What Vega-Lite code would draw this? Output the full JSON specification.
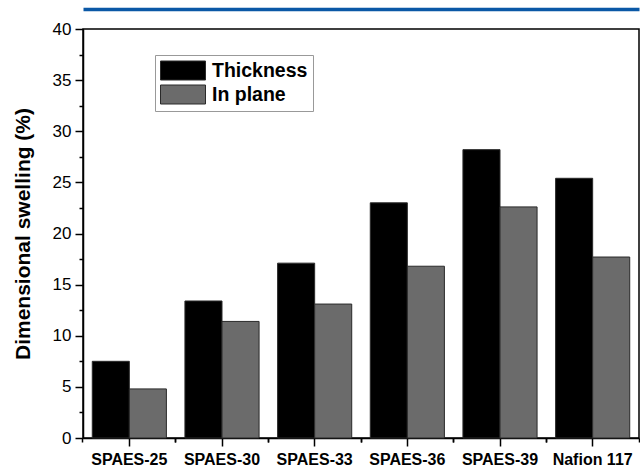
{
  "$schema": "https://vega.github.io/schema/vega-lite/v6.json",
  "width": 556,
  "height": 409,
  "autosize": {"type": "none"},
  "padding": {"left": 83, "top": 29, "right": 1, "bottom": 29},
  "background": "white",
  "config": {
    "font": "Liberation Sans",
    "view": {"stroke": "#000", "strokeWidth": 1.5},
    "axis": {"grid": false, "domainColor": "#000", "tickColor": "#000", "labelColor": "#000", "titleColor": "#000", "domainWidth": 1.5, "tickWidth": 1.5}
  },
  "data": {
    "values": [
      {"sample": "SPAES-25", "series": "Thickness", "swelling": 7.5},
      {"sample": "SPAES-30", "series": "Thickness", "swelling": 13.4},
      {"sample": "SPAES-33", "series": "Thickness", "swelling": 17.1},
      {"sample": "SPAES-36", "series": "Thickness", "swelling": 23.0},
      {"sample": "SPAES-39", "series": "Thickness", "swelling": 28.2},
      {"sample": "Nafion 117", "series": "Thickness", "swelling": 25.4},
      {"sample": "SPAES-25", "series": "In plane", "swelling": 4.8},
      {"sample": "SPAES-30", "series": "In plane", "swelling": 11.4},
      {"sample": "SPAES-33", "series": "In plane", "swelling": 13.1},
      {"sample": "SPAES-36", "series": "In plane", "swelling": 16.8},
      {"sample": "SPAES-39", "series": "In plane", "swelling": 22.6},
      {"sample": "Nafion 117", "series": "In plane", "swelling": 17.7}
    ]
  },
  "layer": [
    {
      "mark": {"type": "bar", "stroke": "#2a2a2a", "strokeWidth": 1},
      "encoding": {
        "x": {
          "field": "sample", "type": "nominal", "sort": null,
          "scale": {"paddingInner": 0.2, "paddingOuter": 0.1},
          "axis": {"orient": "bottom", "title": null, "labelAngle": 0, "labelFontSize": 16, "labelFontWeight": "bold", "tickSize": 8, "labelPadding": 5, "domain": true}
        },
        "xOffset": {"field": "series", "type": "nominal", "sort": ["Thickness", "In plane"], "scale": {"paddingInner": 0, "paddingOuter": 0}},
        "y": {
          "field": "swelling", "type": "quantitative",
          "scale": {"domain": [0, 40], "nice": false},
          "axis": {"orient": "left", "title": "Dimensional swelling (%)", "titleFontSize": 21, "titleFontWeight": "bold", "titlePadding": 19, "values": [0, 5, 10, 15, 20, 25, 30, 35, 40], "labelFontSize": 17, "tickSize": 8, "labelPadding": 4}
        },
        "color": {
          "field": "series", "type": "nominal", "sort": ["Thickness", "In plane"],
          "scale": {"domain": ["Thickness", "In plane"], "range": ["#000000", "#6b6b6b"]},
          "legend": {
            "title": null, "orient": "none", "legendX": 72, "legendY": 26,
            "symbolType": "M-1,-0.95H3.5V0.95H-1Z", "symbolSize": 400, "symbolStrokeColor": "#2a2a2a", "symbolStrokeWidth": 1,
            "labelFontSize": 19.5, "labelFontWeight": "bold", "labelColor": "#000", "labelOffset": 31,
            "rowPadding": 1, "padding": 5, "strokeColor": "#999", "fillColor": "white"
          }
        }
      }
    },
    {
      "mark": {"type": "tick", "opacity": 0},
      "encoding": {
        "x": {"field": "sample", "type": "nominal", "sort": null, "axis": {"orient": "bottom", "title": null, "labels": false, "domain": false, "tickSize": 4, "bandPosition": -0.125}},
        "y": {"field": "swelling", "type": "quantitative", "axis": {"orient": "left", "title": null, "labels": false, "domain": false, "tickSize": 4, "values": [2.5, 7.5, 12.5, 17.5, 22.5, 27.5, 32.5, 37.5]}}
      }
    },
    {
      "mark": {"type": "tick", "opacity": 0},
      "encoding": {
        "x": {"field": "sample", "type": "nominal", "sort": null, "axis": {"orient": "bottom", "title": null, "labels": false, "domain": false, "tickSize": 4, "bandPosition": 1.125}},
        "y": {"field": "swelling", "type": "quantitative", "axis": null}
      }
    },
    {
      "mark": {"type": "tick", "opacity": 0},
      "encoding": {
        "x": {"field": "sample", "type": "nominal", "sort": null, "axis": {"orient": "top", "title": null, "labels": false, "ticks": false, "offset": 20, "domainColor": "#0a58a6", "domainWidth": 3.5}},
        "y": {"field": "swelling", "type": "quantitative", "axis": null}
      }
    }
  ],
  "resolve": {"axis": {"x": "independent", "y": "independent"}}
}
